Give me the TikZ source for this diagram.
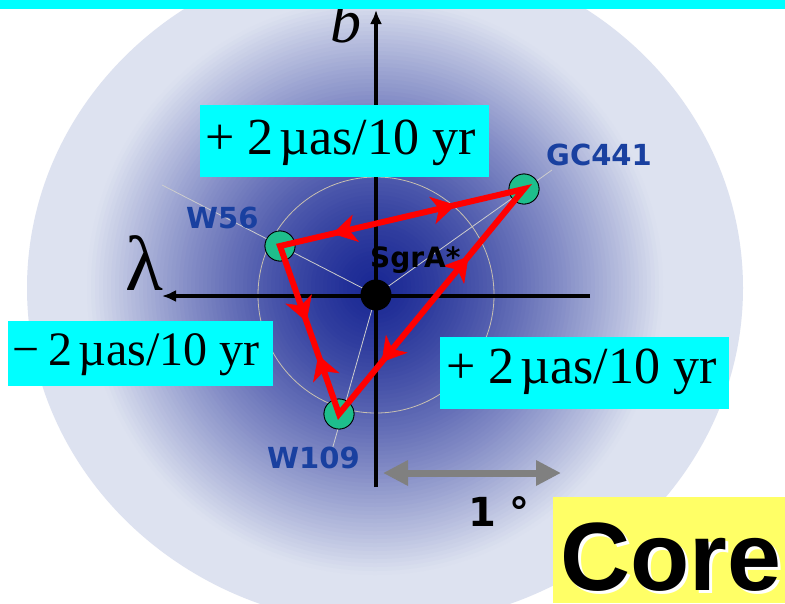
\documentclass[tikz,border=0pt]{standalone}
\usepackage{fontspec}
\newfontfamily\tnr{Liberation Serif}
\newfontfamily\dvs{DejaVu Sans}
\newfontfamily\ars{Liberation Sans}
\usetikzlibrary{arrows.meta,decorations.markings,calc}
\definecolor{lightdisk}{RGB}{221,226,240}
\definecolor{darkcore}{RGB}{26,40,148}
\definecolor{boxcyan}{RGB}{0,255,255}
\definecolor{starfill}{RGB}{30,190,140}
\definecolor{labblue}{RGB}{25,64,160}
\definecolor{coreyellow}{RGB}{255,255,102}
\definecolor{spoke}{RGB}{205,205,205}
\definecolor{ringc}{RGB}{200,192,176}
\tikzset{
  starnode/.style={circle,draw=black,line width=0.8pt,fill=starfill,minimum size=30pt,inner sep=0pt},
  lab/.style={anchor=base west,inner sep=0pt,text=labblue,font=\dvs\bfseries\fontsize{29}{29}\selectfont},
  valbox/.style={fill=boxcyan,inner sep=0pt},
  valtext/.style={anchor=base west,inner sep=0pt,font=\tnr\fontsize{52}{52}\selectfont},
  axis/.style={line width=3.3pt,-{Latex[length=14pt,width=12pt]}},
  redline/.style={draw=red,line width=6pt,line join=miter},
  redarr/.tip={Stealth[length=24pt,width=28pt,inset=7pt,line width=0.5pt]},
}
\newcommand{\valstr}[1]{#1\kern0.12em µas/10 yr}
\begin{document}
\begin{tikzpicture}[x=1pt,y=-1pt]
\useasboundingbox (0,0) rectangle (785,603);
\fill[white] (0,0) rectangle (785,603);
% disk with glow
\fill[lightdisk] (385,288) ellipse [x radius=358pt, y radius=337pt];
\begin{scope}
\clip (385,288) ellipse [x radius=358pt, y radius=337pt];
\foreach \r in {300,296,...,4} {
  \pgfmathsetmacro\p{100*(min(1,\r/290))^1.4}
  \fill[lightdisk!\p!darkcore] (375,287) circle (\r pt);
}
\end{scope}
% coordinates
\coordinate (S) at (376,295);
\node[starnode] (W56) at (280,246) {};
\node[starnode] (GC441) at (524,189) {};
\node[starnode] (W109) at (339,414) {};
\coordinate (sp1) at (162,185);
\coordinate (sp2) at (552,170);
\coordinate (sp3) at (332,450);
% spokes and ring
\draw[spoke,line width=0.8pt] (sp1) -- (S) -- (sp2);
\draw[spoke,line width=0.8pt] (S) -- (sp3);
\draw[ringc,line width=0.8pt] (S) circle (118pt);
% axes
\coordinate (xr) at (590,296);
\coordinate (xl) at (162,296);
\coordinate (yb) at (376,487);
\coordinate (yt) at (376,10);
\draw[axis] (xr) -- (xl);
\draw[axis] (yb) -- (yt);
% stars again on top of spokes
\node[starnode] at (W56) {};
\node[starnode] at (GC441) {};
\node[starnode] at (W109) {};
% red triangle
\draw[redline] (W56.center) -- (GC441.center) -- (W109.center) -- cycle;
\path[decoration={markings,
   mark=at position 0.72 with {\arrow[red]{redarr}},
   mark=at position 0.215 with {\arrowreversed[red]{redarr}}},
   decorate] (W56.center) -- (GC441.center);
\path[decoration={markings,
   mark=at position 0.45 with {\arrow[red]{redarr}},
   mark=at position 0.65 with {\arrowreversed[red]{redarr}}},
   decorate] (W56.center) -- (W109.center);
\path[decoration={markings,
   mark=at position 0.30 with {\arrowreversed[red]{redarr}},
   mark=at position 0.77 with {\arrow[red]{redarr}}},
   decorate] (GC441.center) -- (W109.center);
% SgrA*
\node[circle,fill=black,minimum size=31pt,inner sep=0pt] (sgr) at (S) {};
\node[anchor=base west,inner sep=0pt,font=\dvs\bfseries\fontsize{28}{28}\selectfont] (sgrl) at (370,267) {SgrA*};
% star labels
\node[lab] (lW56) at (186,228) {W56};
\node[lab] (lGC) at (546,165) {GC441};
\node[lab] (lW109) at (267,468) {W109};
% axis labels
\node[anchor=base west,inner sep=0pt,font=\tnr\itshape\fontsize{62}{62}\selectfont] (bl) at (330,42) {b};
\node[anchor=base west,inner sep=0pt,font=\tnr\fontsize{78}{78}\selectfont] (ll) at (125,290) {λ};
% value boxes
\node[valbox,minimum width=289pt,minimum height=72pt] (bx1) at (344.5,141) {};
\node[valtext] (t1) at (205,154) {\valstr{+ 2}};
\node[valbox,minimum width=265pt,minimum height=65pt] (bx2) at (140.5,353.5) {};
\node[valtext,font=\tnr\fontsize{48}{48}\selectfont] (t2) at (12,365) {\valstr{−\kern0.2em2}};
\node[valbox,minimum width=289pt,minimum height=72pt] (bx3) at (584.5,373) {};
\node[valtext] (t3) at (446,383) {\valstr{+ 2}};
% scale arrow
\coordinate (g1) at (383,473);
\coordinate (g2) at (561,473);
\draw[gray,line width=7pt,{Triangle[length=25pt,width=24pt]}-{Triangle[length=25pt,width=24pt]}] (g1) -- (g2);
\node[anchor=base west,inner sep=0pt,font=\dvs\bfseries\fontsize{40}{40}\selectfont] (deg) at (468,526) {1 °};
% Core box
\node[fill=coreyellow,inner sep=0pt,minimum width=232pt,minimum height=106pt] (corebox) at (669,550) {};
\node[anchor=base west,inner sep=0pt,text=white,font=\ars\bfseries\fontsize{97}{97}\selectfont] (coresh) at (563,593) {Core};
\node[anchor=base west,inner sep=0pt,font=\ars\bfseries\fontsize{97}{97}\selectfont] (core) at (560,590) {Core};
% top cyan bar
\fill[boxcyan] (0,0) rectangle (785,9);
\end{tikzpicture}
\end{document}
